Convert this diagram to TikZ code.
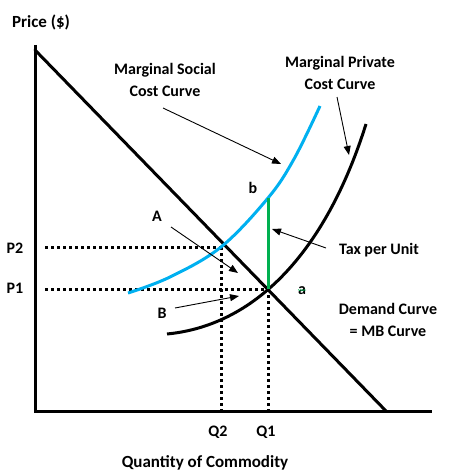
\documentclass[tikz,border=0pt]{standalone}
\usepackage{fontspec}
\setmainfont{Carlito}
\usetikzlibrary{arrows.meta,decorations.pathmorphing}
\definecolor{mscblue}{RGB}{0,176,240}
\definecolor{taxgreen}{RGB}{0,176,80}
\tikzset{
  lbl/.style={font=\bfseries\fontsize{16}{19}\selectfont, inner sep=0pt, align=center},
  axlbl/.style={font=\bfseries\fontsize{17}{20}\selectfont, inner sep=0pt},
  axisline/.style={line width=3pt},
  curve/.style={line width=3pt},
  dots/.style={line width=3pt, dash pattern=on 3pt off 3pt},
  pointer/.style={line width=0.9pt, -{Triangle[length=9pt,width=7pt]}}
}
\begin{document}
\begin{tikzpicture}[x=1pt,y=-1pt]
\useasboundingbox (0,0) rectangle (450,476);
% axes
\coordinate (ytop) at (35,45);
\coordinate (origin) at (35,411);
\coordinate (xend) at (432,411);
\draw[axisline] (ytop) -- (origin) -- (xend);
% demand
\coordinate (dtop) at (35,50);
\coordinate (dbot) at (386,411);
\draw[curve, line cap=round] (dtop) -- (dbot);
% key points
\coordinate (e2) at (221,247);
\coordinate (e1) at (268,289);
\coordinate (bpt) at (268,198);
\coordinate (p2l) at (45,247);
\coordinate (p1l) at (45,289);
\coordinate (q2b) at (221,410);
\coordinate (q1b) at (268,410);
% dotted guides
\draw[dots] (p2l) -- (e2);
\draw[dots] (p1l) -- (e1);
\draw[dots] (e2) -- (q2b);
\draw[dots] (e1) -- (q1b);
% MSC curve
\draw[curve, mscblue] plot[smooth, tension=0.6] coordinates {(128,293) (170,277) (221,247) (268,198) (294,159) (320,106)};
% MPC curve
\coordinate (mpc0) at (167,334);
\coordinate (mpc1) at (366,124);
\draw[curve] (mpc0) .. controls (260,325) and (328,245) .. (mpc1);
% tax
\draw[curve, taxgreen] (bpt) -- (e1);
% labels
\node[axlbl] (price) at (41,22) {Price (\$)};
\node[axlbl] (qty) at (205,463) {Quantity of Commodity};
\node[lbl] (msc) at (165,79.5) {Marginal Social\\[3pt]Cost Curve};
\node[lbl] (mpc) at (340,73) {Marginal Private\\[3pt]Cost Curve};
\node[lbl] (lb) at (253,188) {b};
\node[lbl] (lA) at (157,216) {A};
\node[lbl] (lB) at (162,313) {B};
\node[lbl] (la) at (302,291) {a};
\draw[taxgreen, line width=0.5pt, decorate, decoration={snake, segment length=2pt, amplitude=0.6pt}] ([xshift=-4pt,yshift=5pt]la.south) -- ([xshift=4pt,yshift=5pt]la.south);
\node[lbl] (tax) at (379,250) {Tax per Unit};
\node[lbl] (dem) at (388,319.5) {Demand Curve\\[3pt]= MB Curve};
\node[lbl] (P2) at (15,248) {P2};
\node[lbl] (P1) at (15,288) {P1};
\node[lbl] (Q2) at (218,432) {Q2};
\node[lbl] (Q1) at (266,432) {Q1};
% pointers
\coordinate (mscs) at (163,108);
\coordinate (msct) at (281,164);
\coordinate (mpcs) at (337,97);
\coordinate (mpct) at (349,155);
\coordinate (As) at (171,227);
\coordinate (At) at (238,273);
\coordinate (Bs) at (175,308);
\coordinate (Bt) at (239,296);
\coordinate (taxs) at (326,248);
\coordinate (taxt) at (272,229);
\draw[pointer] (mscs) -- (msct);
\draw[pointer] (mpcs) -- (mpct);
\draw[pointer] (As) -- (At);
\draw[pointer] (Bs) -- (Bt);
\draw[pointer] (taxs) -- (taxt);
\end{tikzpicture}
\end{document}
